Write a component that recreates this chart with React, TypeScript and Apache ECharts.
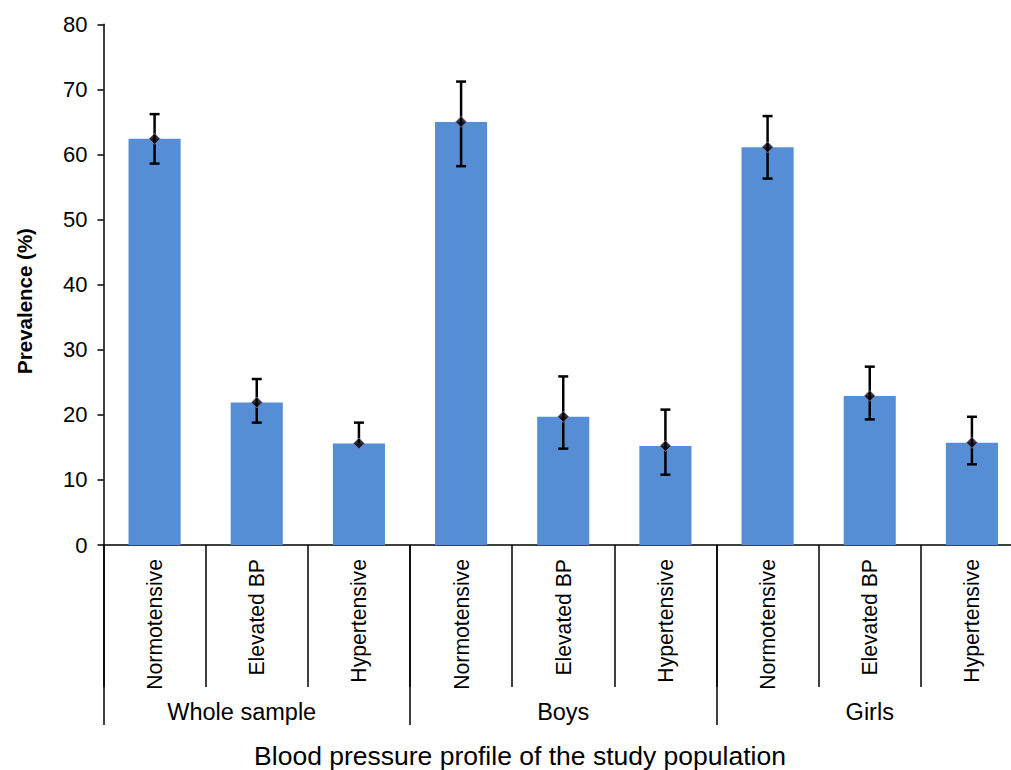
import React, { useEffect, useRef } from "react";
import * as echarts from "echarts";

const categories = [
  "Normotensive", "Elevated BP", "Hypertensive",
  "Normotensive", "Elevated BP", "Hypertensive",
  "Normotensive", "Elevated BP", "Hypertensive",
];
const groups = ["Whole sample", "Boys", "Girls"];
const prevalence = [62.4, 21.9, 15.6, 65.0, 19.7, 15.2, 61.1, 22.9, 15.7];
const upper = [66.2, 25.5, 18.8, 71.2, 25.9, 20.8, 65.9, 27.4, 19.7];
const lower: (number | null)[] = [58.6, 18.8, null, 58.2, 14.8, 10.8, 56.3, 19.3, 12.4];
const yTicks = { min: 0, max: 80, interval: 10 };

const FONT = "'Liberation Sans', Arial, Helvetica, sans-serif";

export default function App() {
  const ref = useRef<HTMLDivElement>(null);
  useEffect(() => {
    if (!ref.current) return;
    const chart = echarts.init(ref.current, undefined, { renderer: "svg" });
    const errData = prevalence.map((v, i) => [i, v, upper[i], lower[i] == null ? v : lower[i]]);
    const groupData = groups.map((g, i) =>
      i === 0 ? { value: g, textStyle: { padding: [0, 30, 0, 0] } } : g
    );
    chart.setOption({
      animation: false,
      textStyle: { fontFamily: FONT },
      grid: { left: 103.5, top: 24.3, bottom: 225, right: 0, containLabel: false },
      xAxis: [
        {
          type: "category",
          data: categories,
          position: "bottom",
          boundaryGap: true,
          axisLine: { show: true, lineStyle: { color: "#000", width: 1.5 } },
          axisTick: { show: true, interval: 0, length: 142, lineStyle: { color: "#000", width: 1.5 } },
          axisLabel: {
            interval: 0, rotate: 90, margin: 14, fontSize: 21.2, color: "#000", fontFamily: FONT,
          },
          splitLine: { show: false },
        },
        {
          type: "category",
          data: groupData,
          position: "bottom",
          boundaryGap: true,
          axisLine: { show: false },
          axisTick: { show: true, interval: 0, length: 180, lineStyle: { color: "#000", width: 1.5 } },
          axisLabel: { interval: 0, margin: 155, fontSize: 23.5, color: "#000", fontFamily: FONT },
          splitLine: { show: false },
        },
      ],
      yAxis: {
        type: "value",
        min: yTicks.min,
        max: yTicks.max,
        interval: yTicks.interval,
        axisLine: { show: true, lineStyle: { color: "#000", width: 1.5 } },
        axisTick: { show: true, length: 6, lineStyle: { color: "#000", width: 1.5 } },
        axisLabel: { margin: 16, fontSize: 22, color: "#000", fontFamily: FONT },
        splitLine: { show: false },
      },
      graphic: [
        {
          type: "text",
          x: 24,
          y: 301,
          rotation: Math.PI / 2,
          style: {
            text: "Prevalence (%)",
            font: `bold 20.5px ${FONT}`,
            fill: "#000",
            textAlign: "center",
            textVerticalAlign: "middle",
          },
        },
        {
          type: "text",
          x: 520,
          y: 756,
          style: {
            text: "Blood pressure profile of the study population",
            font: `26.5px ${FONT}`,
            fill: "#000",
            textAlign: "center",
            textVerticalAlign: "middle",
          },
        },
      ],
      series: [
        {
          type: "bar",
          data: prevalence,
          barWidth: "51%",
          itemStyle: { color: "#558ed5" },
          xAxisIndex: 0,
        },
        {
          type: "custom",
          xAxisIndex: 0,
          data: errData,
          encode: { x: 0, y: [1, 2, 3] },
          z: 5,
          renderItem: (params: any, api: any) => {
            const i = api.value(0);
            const v = api.value(1);
            const h = api.value(2);
            const l = api.value(3);
            const pt = api.coord([i, h]);
            const pb = api.coord([i, l]);
            const cap = 5;
            const style = { stroke: "#000", lineWidth: 2.5 };
            const children: any[] = [
              { type: "line", shape: { x1: pt[0], y1: pt[1], x2: pb[0], y2: pb[1] }, style },
              { type: "line", shape: { x1: pt[0] - cap, y1: pt[1], x2: pt[0] + cap, y2: pt[1] }, style },
            ];
            if (l < v) {
              children.push({ type: "line", shape: { x1: pb[0] - cap, y1: pb[1], x2: pb[0] + cap, y2: pb[1] }, style });
            }
            return { type: "group", children };
          },
        },
        {
          type: "scatter",
          xAxisIndex: 0,
          data: prevalence,
          symbol: "diamond",
          symbolSize: 11,
          z: 10,
          itemStyle: { color: "#000", borderColor: "#9a7cc0", borderWidth: 1 },
        },
      ],
    });
    return () => chart.dispose();
  }, []);
  return (
    <div
      style={{ position: "absolute", left: 0, top: 0, width: 1011, height: 770, overflow: "hidden", background: "#fff" }}
    >
      <div ref={ref} style={{ position: "absolute", left: 0, top: 0, width: 1023, height: 770 }} />
    </div>
  );
}
